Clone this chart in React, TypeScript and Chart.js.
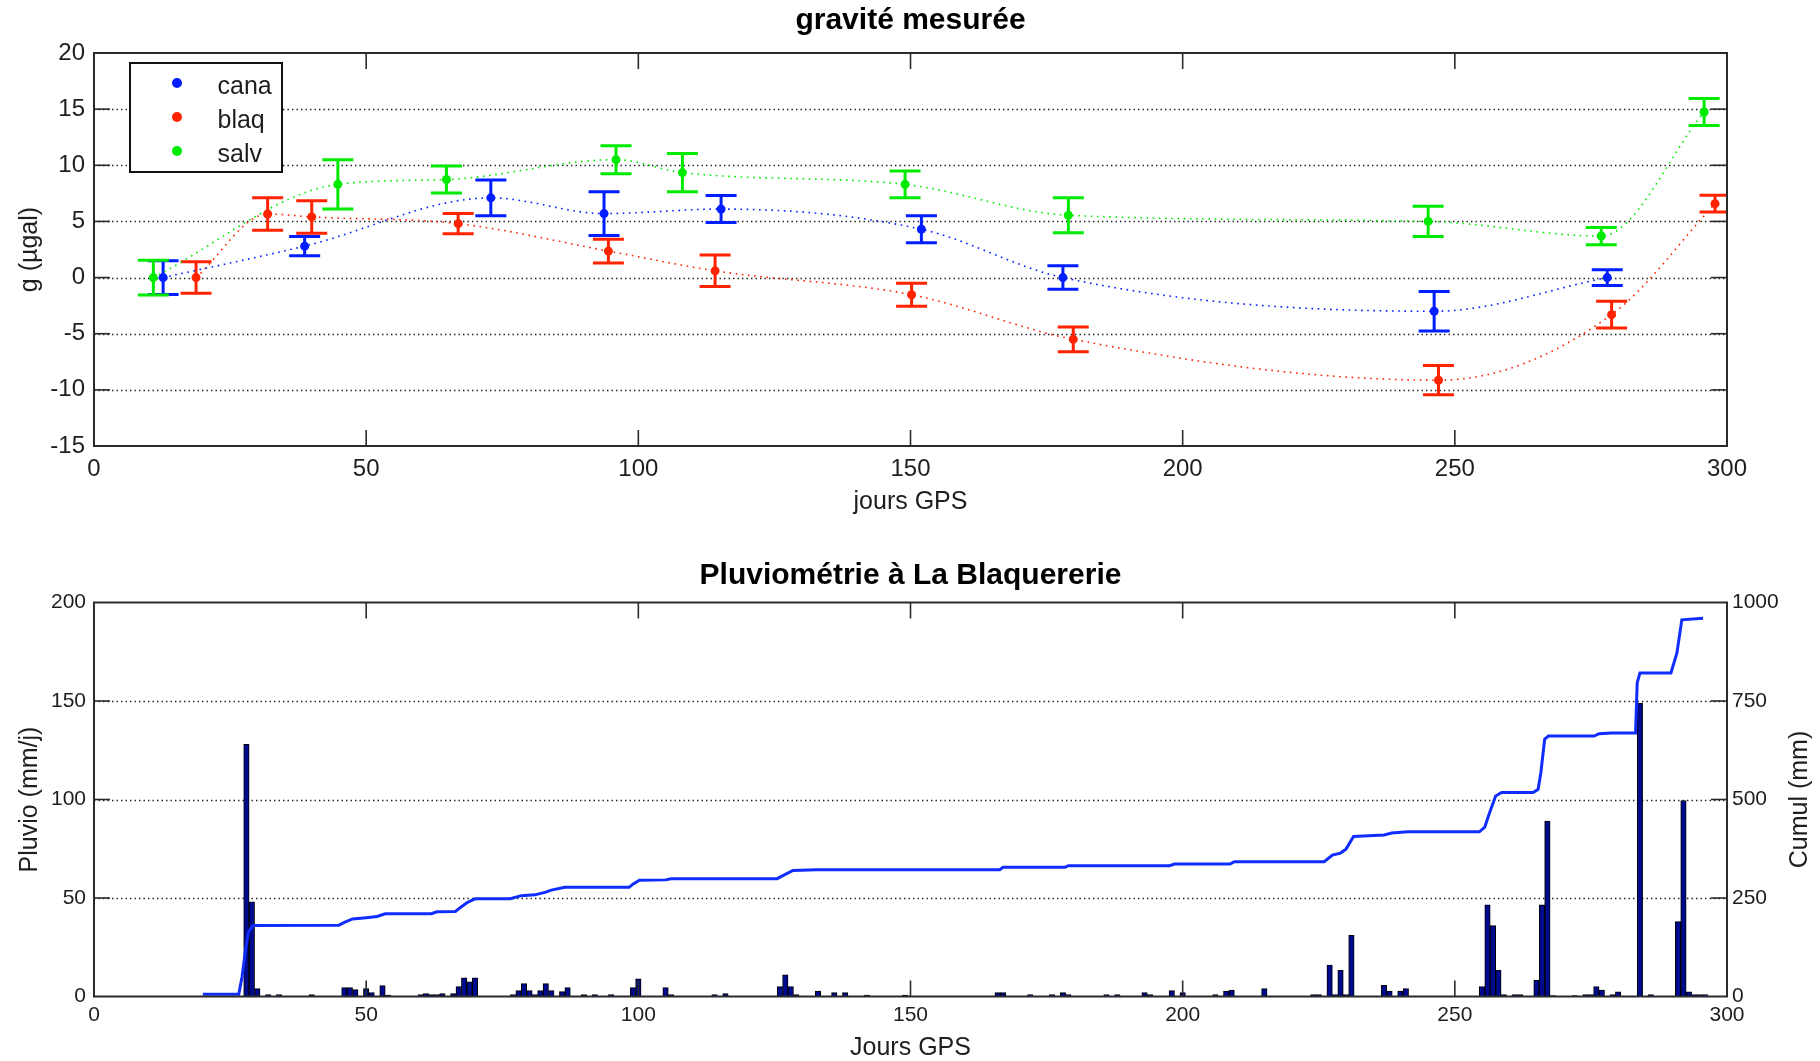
import React, { useEffect, useRef } from 'react';
import { Chart, registerables } from 'chart.js';

Chart.register(...registerables);

// ---------------- data ----------------
const gravTitle = 'gravité mesurée';
const rainTitle = 'Pluviométrie à La Blaquererie';
const cumulLabel = 'Cumul (mm)';

const gpsTicks = [0, 50, 100, 150, 200, 250, 300];
const gravTicks = [-15, -10, -5, 0, 5, 10, 15, 20];
const pluvioTicks = [0, 50, 100, 150, 200];
const cumulTicks = [0, 250, 500, 750, 1000];

const stationNames = ['cana', 'blaq', 'salv'];

const canaDays = [12.7, 38.7, 72.9, 93.7, 115.2, 152.0, 178.0, 246.2, 278.0];
const canaG = [0, 2.8, 7.1, 5.7, 6.1, 4.3, 0, -3.0, 0.0];
const canaErr = [1.5, 0.85, 1.6, 1.95, 1.2, 1.2, 1.05, 1.75, 0.7];

const blaqDays = [18.75, 31.9, 40.0, 66.9, 94.5, 114.1, 150.2, 179.9, 247.0, 278.8, 297.8];
const blaqG = [0, 5.66, 5.4, 4.8, 2.36, 0.6, -1.53, -5.5, -9.14, -3.3, 6.58];
const blaqErr = [1.4, 1.45, 1.45, 0.9, 1.06, 1.4, 1.03, 1.1, 1.3, 1.2, 0.75];

const salvDays = [10.9, 44.8, 64.75, 95.9, 108.1, 149.0, 179.0, 245.1, 276.9, 295.8];
const salvG = [0, 8.3, 8.73, 10.5, 9.35, 8.3, 5.55, 5.0, 3.7, 14.75];
const salvErr = [1.55, 2.2, 1.2, 1.25, 1.7, 1.2, 1.55, 1.35, 0.77, 1.2];

const rainDays = [
  28, 29, 30, 32, 34, 40, 46, 47, 48, 50,
  51, 53, 54, 60, 61, 62, 63, 64, 66, 67,
  68, 69, 70, 77, 78, 79, 80, 81, 82, 83,
  84, 86, 87, 90, 92, 95, 99, 100, 105, 106,
  114, 116, 126, 127, 128, 129, 133, 136, 138, 142,
  149, 166, 167, 172, 176, 178, 179, 186, 188, 193,
  194, 198, 200, 206, 208, 209, 215, 224, 225, 227,
  228, 229, 230, 231, 237, 238, 240, 241, 255, 256,
  257, 258, 259, 261, 262, 265, 266, 267, 268, 272,
  274, 275, 276, 277, 279, 280, 284, 286, 291, 292,
  293, 294, 295, 296,
];
const rainMm = [
  128, 48, 4, 1, 1, 1, 4.5, 4.5, 3.5, 4,
  2, 5.5, 0.7, 1, 1.5, 1, 1, 1.5, 1.5, 5,
  9.5, 7.5, 9.5, 1, 3, 6.5, 3, 1, 3, 6.5,
  3, 2.5, 4.5, 1, 1, 1, 4.5, 9, 4.5, 1,
  1, 1.5, 5, 11, 5, 1, 2.7, 2, 2, 0.7,
  0.7, 2, 2, 1, 1, 2, 1, 1, 1, 2,
  1, 3, 2, 1, 2.7, 3.2, 4, 1, 1, 16,
  1, 13.3, 1, 31, 5.7, 2.7, 2.7, 4, 5, 46.5,
  36, 13.3, 1, 1, 1, 8.3, 46.5, 89, 0.5, 0.5,
  1, 1, 5, 3.2, 1, 2.4, 149, 1, 38, 99.5,
  2.4, 1, 1, 1,
];

const cumDays = [
  20, 26.6, 27.2, 27.8, 28.4, 29.2, 45, 46, 47.5, 50,
  52, 53.5, 62, 63, 66.4, 67.5, 68.5, 70, 76.5, 78.5,
  81, 83, 84, 86.5, 98.3, 99, 100.2, 105, 106, 125.5,
  127, 128.4, 132.7, 166.4, 167, 178.4, 179, 197.6, 198.5, 208.7,
  209.5, 226, 227.5, 229, 230, 231.4, 237, 238.4, 241.3, 254.5,
  255.5, 256.4, 257.5, 258.6, 264.4, 265.3, 265.8, 266.5, 267.2, 275.6,
  276.5, 278.8, 283.2, 283.5, 284, 289.7, 290.8, 291.7, 295.6,
];
const cumMm = [
  6, 6, 50, 115, 165, 180, 181, 188, 197, 200,
  203, 210, 210, 215, 216, 228, 238, 248, 248, 256,
  258, 265, 270, 277, 277, 285, 295, 296, 299, 299,
  310, 320, 322, 322, 328, 328, 332, 332, 336, 336,
  342, 342, 359, 364, 374, 406, 410, 415, 418, 418,
  430, 467, 509, 518, 518, 526, 568, 653, 661, 661,
  667, 669, 669, 796, 821, 821, 872, 956, 960,
];

// ---------------- styles ----------------
const FONT = "'Liberation Sans', Arial, Helvetica, sans-serif";
const TXT = '#1e1e1e';
const BLUE = 'rgb(0,30,255)';
const RED = 'rgb(255,35,0)';
const GREEN = 'rgb(0,235,0)';
const CUM_BLUE = 'rgb(15,45,255)';
const BAR_FILL = 'rgb(0,10,140)';

const gravErrors = [canaErr, blaqErr, salvErr];
const stationColors = [BLUE, RED, GREEN];

const setTicks = (vals: number[]) => (s: any) => {
  s.ticks = vals.map((v) => ({ value: v }));
};
const plain = (v: any) => String(v);

// ---------------- plugins ----------------
const gridPlugin = {
  id: 'dotGrid',
  beforeDatasetsDraw(chart: any) {
    const { ctx, chartArea: a } = chart;
    const y = chart.scales.y;
    ctx.save();
    ctx.strokeStyle = '#1a1a1a';
    ctx.lineWidth = 1.3;
    ctx.setLineDash([1.4, 3.1]);
    y.ticks.forEach((t: any) => {
      const py = Math.round(y.getPixelForValue(t.value)) + 0.5;
      if (py <= a.top + 2 || py >= a.bottom - 2) return;
      ctx.beginPath();
      ctx.moveTo(a.left, py);
      ctx.lineTo(a.right, py);
      ctx.stroke();
    });
    ctx.restore();
  },
};

const framePlugin = {
  id: 'frame',
  afterDatasetsDraw(chart: any) {
    const { ctx, chartArea: a, scales } = chart;
    const L = 16;
    ctx.save();
    ctx.strokeStyle = '#2a2a2a';
    ctx.lineWidth = 1.6;
    ctx.setLineDash([]);
    const seg = (x1: number, y1: number, x2: number, y2: number) => {
      ctx.beginPath();
      ctx.moveTo(x1, y1);
      ctx.lineTo(x2, y2);
      ctx.stroke();
    };
    scales.x.ticks.forEach((t: any) => {
      const px = scales.x.getPixelForValue(t.value);
      if (px <= a.left + 2 || px >= a.right - 2) return;
      seg(px, a.bottom, px, a.bottom - L);
      seg(px, a.top, px, a.top + L);
    });
    scales.y.ticks.forEach((t: any) => {
      const py = scales.y.getPixelForValue(t.value);
      if (py <= a.top + 2 || py >= a.bottom - 2) return;
      seg(a.left, py, a.left + L, py);
    });
    const rs = scales.y1 || scales.y;
    rs.ticks.forEach((t: any) => {
      const py = rs.getPixelForValue(t.value);
      if (py <= a.top + 2 || py >= a.bottom - 2) return;
      seg(a.right, py, a.right - L, py);
    });
    ctx.lineWidth = 2;
    ctx.strokeRect(a.left, a.top, a.right - a.left, a.bottom - a.top);
    ctx.restore();
  },
};

const errorBarPlugin = {
  id: 'errBars',
  beforeDatasetsDraw(chart: any) {
    const { ctx, chartArea: a } = chart;
    const x = chart.scales.x;
    const y = chart.scales.y;
    const cap = 15.5;
    ctx.save();
    ctx.beginPath();
    ctx.rect(a.left, a.top, a.right - a.left, a.bottom - a.top);
    ctx.clip();
    ctx.lineWidth = 3;
    ctx.setLineDash([]);
    chart.data.datasets.forEach((ds: any, i: number) => {
      const errs = gravErrors[i];
      ctx.strokeStyle = ds.borderColor;
      ds.data.forEach((p: any, j: number) => {
        const px = x.getPixelForValue(p.x);
        const top = y.getPixelForValue(p.y + errs[j]);
        const bot = y.getPixelForValue(p.y - errs[j]);
        ctx.beginPath();
        ctx.moveTo(px, top);
        ctx.lineTo(px, bot);
        ctx.moveTo(px - cap, top);
        ctx.lineTo(px + cap, top);
        ctx.moveTo(px - cap, bot);
        ctx.lineTo(px + cap, bot);
        ctx.stroke();
      });
    });
    ctx.restore();
  },
};

const legendPlugin = {
  id: 'boxLegend',
  afterDraw(chart: any) {
    const { ctx, chartArea: a } = chart;
    const bx = a.left + 36;
    const by = a.top + 10;
    const bw = 152;
    const bh = 109;
    ctx.save();
    ctx.fillStyle = '#fff';
    ctx.fillRect(bx, by, bw, bh);
    ctx.strokeStyle = '#111';
    ctx.lineWidth = 2;
    ctx.strokeRect(bx, by, bw, bh);
    ctx.font = `25px ${FONT}`;
    ctx.textAlign = 'left';
    ctx.textBaseline = 'alphabetic';
    chart.data.datasets.forEach((ds: any, i: number) => {
      const cy = by + 20 + i * 34;
      ctx.fillStyle = ds.borderColor;
      ctx.beginPath();
      ctx.arc(bx + 47, cy, 5, 0, Math.PI * 2);
      ctx.fill();
      ctx.fillStyle = TXT;
      ctx.fillText(ds.label, bx + 87.5, cy + 11);
    });
    ctx.restore();
  },
};

const makeTitle = (text: string, gap: number) => ({
  id: 'plotTitle',
  afterDraw(chart: any) {
    const { ctx, chartArea: a } = chart;
    ctx.save();
    ctx.font = `bold 30px ${FONT}`;
    ctx.fillStyle = '#000';
    ctx.textAlign = 'center';
    ctx.textBaseline = 'alphabetic';
    ctx.fillText(text, (a.left + a.right) / 2, a.top - gap);
    ctx.restore();
  },
});

// right-axis title, read bottom-to-top like the left one
const rightTitlePlugin = {
  id: 'rightTitle',
  afterDraw(chart: any) {
    const { ctx, chartArea: a } = chart;
    const s = chart.scales.y1;
    ctx.save();
    ctx.translate(s.right - 20, (a.top + a.bottom) / 2);
    ctx.rotate(-Math.PI / 2);
    ctx.font = `25px ${FONT}`;
    ctx.fillStyle = TXT;
    ctx.textAlign = 'center';
    ctx.textBaseline = 'middle';
    ctx.fillText(cumulLabel, 0, 0);
    ctx.restore();
  },
};

// ---------------- component ----------------
export default function App() {
  const topRef = useRef<HTMLCanvasElement | null>(null);
  const botRef = useRef<HTMLCanvasElement | null>(null);

  useEffect(() => {
    const series = [
      [canaDays, canaG],
      [blaqDays, blaqG],
      [salvDays, salvG],
    ];
    const noGrid = { display: false, drawTicks: false, tickLength: 0 };
    const gravChart = new Chart(topRef.current as HTMLCanvasElement, {
      type: 'scatter',
      data: {
        datasets: series.map(([days, g], i) => ({
          label: stationNames[i],
          data: days.map((d, k) => ({ x: d, y: g[k] })),
          showLine: true,
          borderColor: stationColors[i],
          backgroundColor: stationColors[i],
          borderWidth: 1.6,
          borderDash: [1.6, 4.6],
          cubicInterpolationMode: 'monotone',
          pointRadius: 4.5,
          pointBorderWidth: 0,
          pointBackgroundColor: stationColors[i],
        })),
      },
      options: {
        responsive: false,
        animation: false,
        events: [],
        layout: { padding: { top: 53, right: 93, left: 0, bottom: 0 } },
        plugins: { legend: { display: false }, tooltip: { enabled: false } },
        scales: {
          x: {
            type: 'linear',
            min: 0,
            max: 300,
            offset: false,
            grid: noGrid,
            border: { display: false },
            afterBuildTicks: setTicks(gpsTicks),
            ticks: { font: { family: FONT, size: 24 }, color: TXT, padding: 9, maxRotation: 0, autoSkip: false, callback: plain },
            title: { display: true, text: 'jours GPS', font: { family: FONT, size: 25 }, color: TXT, padding: { top: 0, bottom: 13 } },
            afterFit: (s: any) => {
              s.height = 84;
            },
          },
          y: {
            type: 'linear',
            min: -15,
            max: 20,
            grid: noGrid,
            border: { display: false },
            afterBuildTicks: setTicks(gravTicks),
            ticks: { font: { family: FONT, size: 24 }, color: TXT, padding: 9, autoSkip: false, callback: plain },
            title: { display: true, text: 'g (µgal)', font: { family: FONT, size: 25 }, color: TXT, padding: { top: 15.6, bottom: 0 } },
            afterFit: (s: any) => {
              s.width = 94;
            },
          },
        },
      } as any,
      plugins: [gridPlugin, errorBarPlugin, framePlugin, legendPlugin, makeTitle(gravTitle, 23.7)],
    });

    const rainChart = new Chart(botRef.current as HTMLCanvasElement, {
      type: 'bar',
      data: {
        datasets: [
          {
            type: 'line',
            label: 'Cumul',
            data: cumDays.map((d, k) => ({ x: d, y: cumMm[k] })),
            yAxisID: 'y1',
            borderColor: CUM_BLUE,
            borderWidth: 3,
            pointRadius: 0,
            tension: 0,
            fill: false,
            order: 0,
          },
          {
            type: 'bar',
            label: 'Pluvio',
            data: rainDays.map((d, k) => ({ x: d, y: rainMm[k] })),
            yAxisID: 'y',
            backgroundColor: BAR_FILL,
            borderColor: '#000',
            borderWidth: 1,
            barPercentage: 1,
            categoryPercentage: 1,
            order: 1,
          },
        ],
      } as any,
      options: {
        responsive: false,
        animation: false,
        events: [],
        layout: { padding: { top: 72.5, right: 0, left: 0, bottom: 0 } },
        plugins: { legend: { display: false }, tooltip: { enabled: false } },
        scales: {
          x: {
            type: 'linear',
            min: 0,
            max: 300,
            offset: false,
            grid: noGrid,
            border: { display: false },
            afterBuildTicks: setTicks(gpsTicks),
            ticks: { font: { family: FONT, size: 21 }, color: TXT, padding: 5.9, maxRotation: 0, autoSkip: false, callback: plain },
            title: { display: true, text: 'Jours GPS', font: { family: FONT, size: 25 }, color: TXT, padding: { top: 0, bottom: -2 } },
            afterFit: (s: any) => {
              s.height = 64.5;
            },
          },
          y: {
            type: 'linear',
            position: 'left',
            min: 0,
            max: 200,
            grid: noGrid,
            border: { display: false },
            afterBuildTicks: setTicks(pluvioTicks),
            ticks: { font: { family: FONT, size: 21 }, color: TXT, padding: 8, autoSkip: false, callback: plain },
            title: { display: true, text: 'Pluvio (mm/j)', font: { family: FONT, size: 25 }, color: TXT, padding: { top: 15, bottom: 0 } },
            afterFit: (s: any) => {
              s.width = 94;
            },
          },
          y1: {
            type: 'linear',
            position: 'right',
            min: 0,
            max: 1000,
            grid: noGrid,
            border: { display: false },
            afterBuildTicks: setTicks(cumulTicks),
            ticks: { font: { family: FONT, size: 21 }, color: TXT, padding: 5, autoSkip: false, callback: plain },
            title: { display: false },
            afterFit: (s: any) => {
              s.width = 93;
            },
          },
        },
      } as any,
      plugins: [gridPlugin, framePlugin, makeTitle(rainTitle, 18.6), rightTitlePlugin],
    });

    return () => {
      gravChart.destroy();
      rainChart.destroy();
    };
  }, []);

  return (
    <div style={{ position: 'fixed', left: 0, top: 0, width: 1820, height: 1061, background: '#fff', overflow: 'hidden' }}>
      <canvas ref={topRef} width={1820} height={530} style={{ position: 'absolute', left: 0, top: 0 }} />
      <canvas ref={botRef} width={1820} height={531} style={{ position: 'absolute', left: 0, top: 530 }} />
    </div>
  );
}
